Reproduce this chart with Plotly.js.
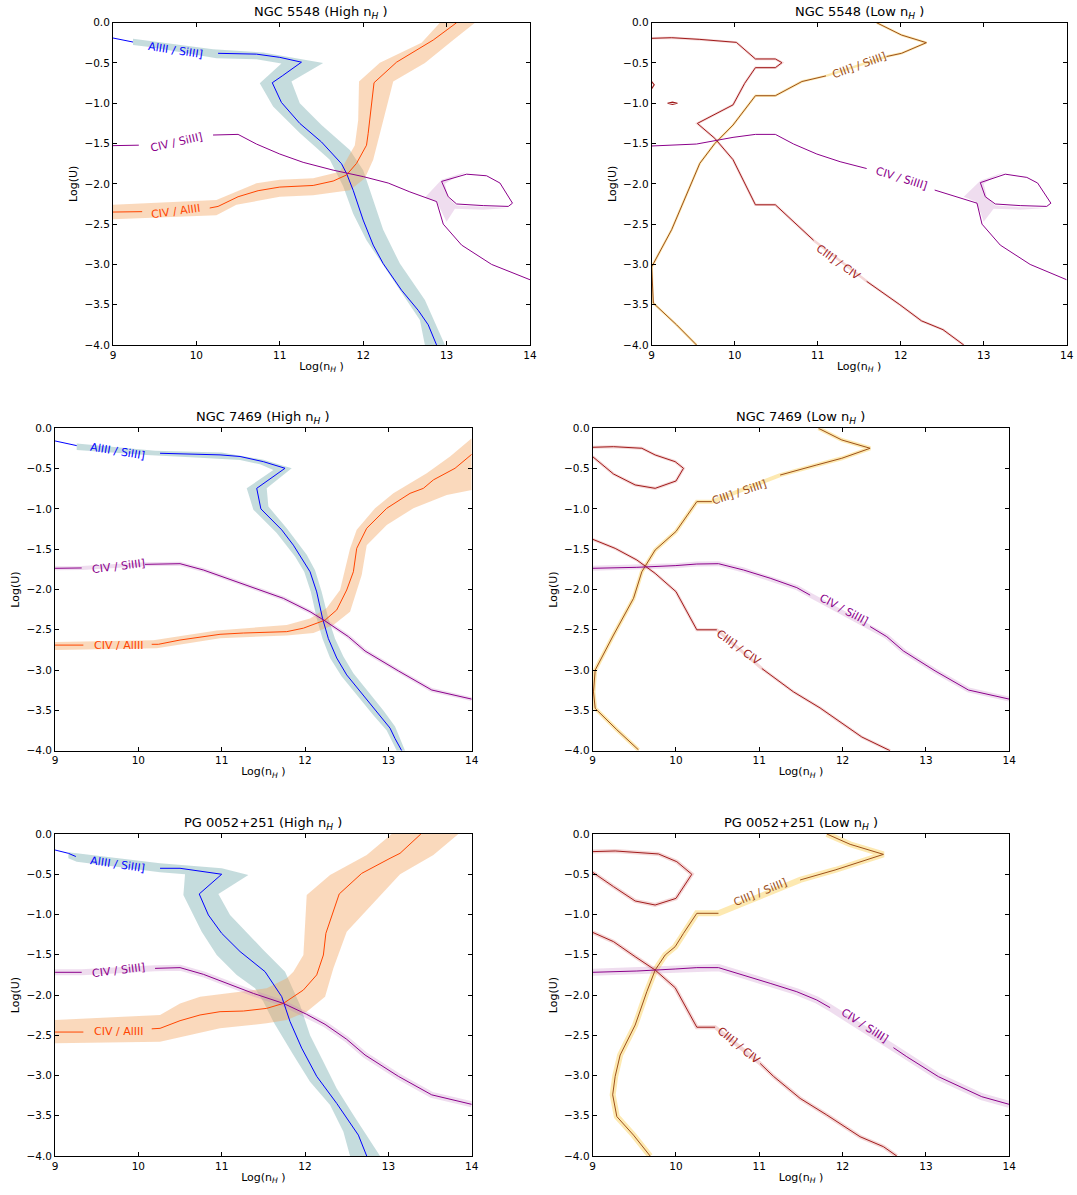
<!DOCTYPE html>
<html><head><meta charset="utf-8">
<script src="https://cdn.plot.ly/plotly-3.0.1.min.js"></script>
<style>body{margin:0;background:#fff}#chart{width:1077px;height:1195px}</style>
</head><body><div id="chart"></div>
<script>
// ---------- tick values ----------
const xTicks = [9, 10, 11, 12, 13, 14];
const yTicks = [-4, -3.5, -3, -2.5, -2, -1.5, -1, -0.5, 0];

const panelTitles = [
  "NGC 5548 (High n<sub><i>H</i></sub> )", "NGC 5548 (Low n<sub><i>H</i></sub> )",
  "NGC 7469 (High n<sub><i>H</i></sub> )", "NGC 7469 (Low n<sub><i>H</i></sub> )",
  "PG 0052+251 (High n<sub><i>H</i></sub> )", "PG 0052+251 (Low n<sub><i>H</i></sub> )"
];

// ---------- Panel 1: NGC 5548 High ----------
const p1_alsi_x = [9, 9.24, null, 10.26, 10.72, 11.0, 11.26, 11.03, 10.91, 11.02, 11.24, 11.5, 11.74, 11.8, 11.88, 12.0, 12.12, 12.24, 12.46, 12.66, 12.78, 12.88];
const p1_alsi_y = [-0.19, -0.24, null, -0.38, -0.39, -0.43, -0.49, -0.66, -0.745, -0.99, -1.25, -1.48, -1.75, -1.87, -2.08, -2.45, -2.76, -2.99, -3.32, -3.57, -3.75, -4.0];
const p1_alsiBand_x = [9.24, 10.2, 10.8, 11.2, 11.52, 11.14, 11.24, 11.5, 11.84, 12.0, 12.08, 12.24, 12.44, 12.74, 12.98, 12.74, 12.68, 12.44, 12.04, 11.88, 11.76, 11.6, 11.24, 10.92, 10.76, 11.02, 10.72, 10.24, 9.44, 9.24];
const p1_alsiBand_y = [-0.2, -0.33, -0.37, -0.44, -0.5, -0.73, -1.0, -1.27, -1.58, -1.83, -2.08, -2.57, -2.99, -3.44, -4.0, -4.0, -3.69, -3.32, -2.7, -2.37, -2.03, -1.7, -1.37, -1.04, -0.75, -0.505, -0.455, -0.44, -0.3, -0.277];
const p1_cal_x = [9, 9.35, null, 10.16, 10.26, 10.5, 10.74, 11.0, 11.4, 11.64, 11.8, 11.92, 12.04, 12.06, 12.1, 12.13, 12.4, 12.84, 13.12];
const p1_cal_y = [-2.35, -2.345, null, -2.3, -2.28, -2.16, -2.085, -2.04, -2.02, -1.965, -1.89, -1.746, -1.52, -1.373, -1.0, -0.745, -0.49, -0.215, 0];
const p1_calBand_x = [9, 10.24, 10.52, 10.72, 11.0, 11.4, 11.72, 11.9, 11.94, 11.95, 12.2, 12.7, 12.92, 13.34, 13.08, 12.74, 12.36, 12.24, 12.12, 12.02, 11.84, 11.4, 11.0, 10.48, 10.24, 9];
const p1_calBand_y = [-2.26, -2.2, -2.08, -1.994, -1.95, -1.93, -1.85, -1.52, -1.21, -0.73, -0.496, -0.248, 0, 0, -0.215, -0.5, -0.73, -1.21, -1.7, -1.93, -2.08, -2.14, -2.16, -2.26, -2.39, -2.44];
const p1_csi_x = [9, 9.31, null, 10.2, 10.5, 10.72, 11.0, 11.28, 11.64, 12.0, 12.3, 12.56, 12.88, 12.96, 13.18, 13.54, 14];
const p1_csi_y = [-1.526, -1.52, null, -1.394, -1.386, -1.506, -1.63, -1.733, -1.83, -1.91, -1.99, -2.1, -2.22, -2.5, -2.76, -3.0, -3.19];
const p1_csiLoop_x = [12.94, 13.24, 13.48, 13.64, 13.79, 13.74, 13.44, 13.12, 13.02, 12.94];
const p1_csiLoop_y = [-1.97, -1.88, -1.9, -1.99, -2.24, -2.28, -2.27, -2.25, -2.16, -1.97];
const p1_csiBand_x = [12.74, 12.94, 13.24, 13.1, 12.98, 13.02, 13.12, 13.44, 13.74, 13.44, 13.1, 13.0, 12.94, 12.88];
const p1_csiBand_y = [-2.17, -1.95, -1.85, -1.92, -2.0, -2.17, -2.27, -2.29, -2.3, -2.32, -2.31, -2.47, -2.35, -2.22];

// ---------- Panel 2: NGC 5548 Low ----------
const p2_cc_x = [9, 9.24, 9.58, 10.02, 10.25, 10.49, 10.57, 10.49, 10.25, 10.12, 9.98, 9.55, 9.76, 9.98, 10.25, 10.49, 10.95, null, 11.59, 11.99, 12.25, 12.51, 12.76];
const p2_cc_y = [-0.194, -0.186, -0.207, -0.244, -0.45, -0.45, -0.496, -0.558, -0.558, -0.753, -1.02, -1.25, -1.435, -1.7, -2.26, -2.26, -2.7, null, -3.21, -3.5, -3.7, -3.81, -4.0];
const p2_ccDot1_x = [9, 9.03, 9.0];
const p2_ccDot1_y = [-0.73, -0.77, -0.82];
const p2_ccDot2_x = [9.19, 9.25, 9.31, 9.25, 9.19];
const p2_ccDot2_y = [-1.0, -0.985, -1.0, -1.015, -1.0];
const p2_csi3_x = [11.71, 12.01, 12.31, 12.01, 11.83, null, 11.1, 10.81, 10.49, 10.25, 9.98, 9.76, 9.58, 9.24, 9.0, 9.01, 9.02, 9.3, 9.54];
const p2_csi3_y = [0, -0.153, -0.248, -0.38, -0.42, null, -0.66, -0.73, -0.906, -0.906, -1.27, -1.5, -1.745, -2.57, -3.03, -3.44, -3.48, -3.75, -4.0];
const p2_csi_x = [9, 9.54, 9.98, 10.25, 10.49, 10.71, 10.99, 11.27, 11.59, null, 12.41, 12.92, 12.98, 13.2, 13.56, 14];
const p2_csi_y = [-1.53, -1.506, -1.423, -1.386, -1.386, -1.506, -1.63, -1.725, -1.81, null, -2.077, -2.24, -2.5, -2.76, -3.0, -3.19];
const p2_csiLoop_x = [12.96, 13.26, 13.52, 13.65, 13.81, 13.76, 13.44, 13.14, 13.02, 12.96];
const p2_csiLoop_y = [-1.985, -1.88, -1.92, -1.99, -2.24, -2.28, -2.27, -2.25, -2.16, -1.985];
const p2_csiBand_x = [12.76, 12.96, 13.26, 13.12, 13.0, 13.04, 13.14, 13.44, 13.76, 13.44, 13.12, 13.0, 12.96, 12.9];
const p2_csiBand_y = [-2.16, -1.96, -1.85, -1.92, -2.0, -2.17, -2.27, -2.29, -2.3, -2.32, -2.31, -2.47, -2.35, -2.22];

// ---------- Panel 3: NGC 7469 High ----------
const p3_alsi_x = [9, 9.26, null, 10.26, 10.98, 11.22, 11.5, 11.76, 11.42, 11.47, 11.72, 11.86, 11.96, 12.06, 12.14, 12.21, 12.28, 12.38, 12.5, 12.7, 12.88, 13.02, 13.08, 13.16];
const p3_alsi_y = [-0.157, -0.215, null, -0.31, -0.33, -0.35, -0.414, -0.496, -0.745, -1.0, -1.26, -1.45, -1.61, -1.78, -2.03, -2.36, -2.61, -2.85, -3.06, -3.31, -3.54, -3.72, -3.85, -4.0];
const p3_alsiBand_x = [9.26, 10.2, 11.0, 11.5, 11.84, 11.54, 11.56, 11.78, 12.02, 12.12, 12.2, 12.28, 12.36, 12.46, 12.58, 12.76, 12.94, 13.08, 13.2, 13.1, 12.98, 12.82, 12.64, 12.44, 12.3, 12.21, 12.14, 12.07, 11.99, 11.88, 11.66, 11.38, 11.3, 11.62, 11.46, 11.22, 10.74, 10.1, 9.26];
const p3_alsiBand_y = [-0.19, -0.28, -0.3, -0.39, -0.496, -0.745, -0.97, -1.24, -1.57, -1.76, -2.03, -2.36, -2.61, -2.83, -3.04, -3.27, -3.5, -3.7, -4.0, -4.0, -3.75, -3.56, -3.33, -3.08, -2.85, -2.61, -2.36, -2.03, -1.78, -1.59, -1.3, -1.01, -0.745, -0.517, -0.447, -0.393, -0.364, -0.33, -0.27];
const p3_cal_x = [9, 9.34, null, 10.16, 10.24, 10.5, 10.98, 11.26, 11.78, 11.98, 12.24, 12.38, 12.5, 12.58, 12.62, 12.74, 12.98, 13.26, 13.42, 13.54, 13.8, 14];
const p3_cal_y = [-2.69, -2.69, null, -2.68, -2.68, -2.627, -2.556, -2.54, -2.523, -2.48, -2.38, -2.254, -2.006, -1.78, -1.49, -1.24, -0.993, -0.807, -0.745, -0.64, -0.496, -0.323];
const p3_calBand_x = [9, 10.18, 10.94, 11.78, 12.06, 12.26, 12.42, 12.54, 12.62, 12.84, 13.06, 13.46, 13.74, 14, 14, 13.7, 13.3, 12.98, 12.74, 12.68, 12.54, 12.34, 12.1, 11.78, 10.98, 10.22, 9];
const p3_calBand_y = [-2.65, -2.63, -2.51, -2.44, -2.36, -2.23, -2.006, -1.49, -1.26, -0.993, -0.807, -0.558, -0.35, -0.124, -0.765, -0.827, -0.993, -1.2, -1.45, -1.82, -2.275, -2.44, -2.54, -2.57, -2.606, -2.73, -2.75];
const p3_csi_x = [9, 9.32, null, 10.08, 10.5, 10.78, 11.06, 11.38, 11.74, 12.06, 12.24, 12.52, 12.72, 13.12, 13.52, 14];
const p3_csi_y = [-1.737, -1.733, null, -1.688, -1.68, -1.758, -1.86, -1.986, -2.11, -2.275, -2.39, -2.585, -2.763, -3.01, -3.247, -3.36];

// ---------- Panel 4: NGC 7469 Low ----------
const p4_ccLoop_x = [9, 9.25, 9.59, 9.75, 9.99, 10.09, 10.0, 9.75, 9.51, 9.25, 9];
const p4_ccLoop_y = [-0.236, -0.228, -0.248, -0.331, -0.414, -0.496, -0.654, -0.745, -0.703, -0.567, -0.352];
const p4_cc_x = [9, 9.27, 9.53, 9.75, 10.0, 10.25, 10.49, null, 11.03, 11.41, 11.73, 11.99, 12.23, 12.57];
const p4_cc_y = [-1.377, -1.49, -1.634, -1.8, -2.027, -2.5, -2.5, null, -2.98, -3.27, -3.47, -3.66, -3.83, -4.0];
const p4_csi3_x = [11.71, 11.99, 12.33, 11.99, 11.69, 11.25, null, 10.43, 10.25, 10.0, 9.75, 9.59, 9.49, 9.25, 9.03, 9.01, 9.03, 9.29, 9.55];
const p4_csi3_y = [0, -0.145, -0.248, -0.372, -0.455, -0.58, null, -0.91, -0.91, -1.28, -1.51, -1.78, -2.11, -2.565, -3.0, -3.27, -3.475, -3.74, -3.99];
const p4_csi_x = [9, 9.53, 9.99, 10.25, 10.51, 10.81, 11.13, 11.45, 11.61, null, 12.33, 12.53, 12.73, 13.11, 13.51, 14];
const p4_csi_y = [-1.737, -1.725, -1.704, -1.684, -1.68, -1.758, -1.86, -1.977, -2.07, null, -2.46, -2.585, -2.763, -3.01, -3.247, -3.36];

// ---------- Panel 5: PG 0052+251 High ----------
const p5_alsi_x = [9, 9.16, 9.25, null, 10.26, 10.5, 11.0, 10.73, 10.84, 11.0, 11.22, 11.52, 11.72, 11.82, 11.96, 12.14, 12.38, 12.64, 12.74];
const p5_alsi_y = [-0.199, -0.24, -0.28, null, -0.426, -0.426, -0.5, -0.745, -1.006, -1.234, -1.46, -1.71, -2.02, -2.33, -2.66, -3.01, -3.346, -3.74, -4.0];
const p5_alsiBand_x = [9.16, 9.26, 10.26, 11.0, 11.32, 10.96, 11.1, 11.5, 11.76, 11.94, 12.06, 12.22, 12.38, 12.58, 12.78, 12.9, 12.54, 12.46, 12.3, 12.06, 11.86, 11.62, 11.5, 11.4, 11.18, 10.94, 10.76, 10.62, 10.54, 10.56, 10.26, 9.26, 9.16];
const p5_alsiBand_y = [-0.228, -0.24, -0.364, -0.426, -0.509, -0.745, -1.006, -1.44, -1.71, -2.124, -2.5, -2.83, -3.16, -3.49, -3.8, -4.0, -4.0, -3.698, -3.366, -3.077, -2.745, -2.331, -2.083, -1.917, -1.75, -1.503, -1.213, -0.923, -0.758, -0.5, -0.476, -0.344, -0.3];
const p5_cal_x = [9, 9.34, null, 10.16, 10.26, 10.5, 10.74, 10.98, 11.26, 11.54, 11.74, 11.98, 12.14, 12.22, 12.25, 12.41, 12.68, 13.02, 13.14, 13.39];
const p5_cal_y = [-2.46, -2.46, null, -2.42, -2.414, -2.319, -2.248, -2.207, -2.199, -2.166, -2.104, -1.938, -1.75, -1.503, -1.234, -0.745, -0.489, -0.302, -0.24, 0];
const p5_calBand_x = [9, 10.26, 10.5, 10.74, 11.54, 11.78, 11.86, 11.98, 12.02, 12.3, 12.74, 13.04, 13.84, 13.54, 13.14, 12.5, 12.34, 12.24, 12.02, 11.78, 11.54, 10.98, 10.26, 9];
const p5_calBand_y = [-2.31, -2.248, -2.104, -2.02, -1.917, -1.793, -1.71, -1.503, -0.758, -0.509, -0.261, 0, 0, -0.261, -0.5, -1.213, -1.669, -2.02, -2.207, -2.31, -2.352, -2.414, -2.58, -2.6];
const p5_csi_x = [9, 9.32, null, 10.2, 10.5, 10.78, 11.06, 11.38, 11.74, 12.02, 12.24, 12.5, 12.72, 13.12, 13.52, 14];
const p5_csi_y = [-1.718, -1.718, null, -1.669, -1.66, -1.743, -1.855, -1.98, -2.104, -2.24, -2.364, -2.55, -2.745, -3.01, -3.24, -3.358];

// ---------- Panel 6: PG 0052+251 Low ----------
const p6_ccLoop_x = [9, 9.27, 9.79, 10.01, 10.19, 10.0, 9.75, 9.51, 9.25, 9];
const p6_ccLoop_y = [-0.219, -0.211, -0.248, -0.344, -0.5, -0.8, -0.882, -0.832, -0.654, -0.476];
const p6_cc_x = [9, 9.25, 9.51, 9.75, 9.99, 10.25, 10.47, null, 11.01, 11.17, 11.49, 11.81, 12.21, 12.49, 12.65];
const p6_cc_y = [-1.222, -1.337, -1.524, -1.69, -1.909, -2.4, -2.4, null, -2.85, -3.01, -3.284, -3.49, -3.76, -3.884, -4.0];
const p6_csi3_x = [11.81, 12.09, 12.49, 12.17, 11.91, 11.49, null, 10.51, 10.25, 10.09, 9.99, 9.87, 9.75, 9.65, 9.51, 9.33, 9.27, 9.24, 9.29, 9.49, 9.69];
const p6_csi3_y = [0, -0.128, -0.253, -0.364, -0.447, -0.571, null, -0.985, -0.985, -1.234, -1.4, -1.503, -1.69, -1.958, -2.373, -2.745, -3.01, -3.24, -3.51, -3.74, -4.0];
const p6_csi_x = [9, 9.53, 9.99, 10.25, 10.51, 10.81, 11.13, 11.45, 11.69, 11.85, null, 12.61, 12.77, 13.15, 13.67, 14];
const p6_csi_y = [-1.718, -1.702, -1.677, -1.66, -1.66, -1.752, -1.855, -1.959, -2.062, -2.157, null, -2.654, -2.766, -3.014, -3.263, -3.358];

// ---------- contour labels ----------
const labelPanel = [1, 1, 1, 2, 2, 2, 3, 3, 3, 4, 4, 4, 5, 5, 5, 6, 6, 6];
const labelText = ["AlIII / SiIII]", "CIV / SiIII]", "CIV / AlIII", "CIII] / CIV", "CIII] / SiIII]", "CIV / SiIII]",
  "AlIII / SiIII]", "CIV / SiIII]", "CIV / AlIII", "CIII] / CIV", "CIII] / SiIII]", "CIV / SiIII]",
  "AlIII / SiIII]", "CIV / SiIII]", "CIV / AlIII", "CIII] / CIV", "CIII] / SiIII]", "CIV / SiIII]"];
const labelX = [9.75, 9.76, 9.75, 11.25, 11.5, 12.01, 9.75, 9.76, 9.76, 10.75, 10.76, 12.01, 9.75, 9.76, 9.76, 10.75, 11.01, 12.26];
const labelY = [-0.34, -1.49, -2.34, -2.97, -0.525, -1.93, -0.29, -1.716, -2.69, -2.72, -0.794, -2.254, -0.377, -1.70, -2.447, -2.63, -0.725, -2.38];
const labelAngle = [8.6, -12.9, -7.7, 36.5, -20, 17.4, 9.2, -7, 0, 36, -18.4, 28, 8.5, -7, 0, 39, -22, 33];
const labelKind = ["alsi", "csi", "cal", "cc", "csi3", "csi", "alsi", "csi", "cal", "cc", "csi3", "csi", "alsi", "csi", "cal", "cc", "csi3", "csi"];

// ---------- styling ----------
const COL = {alsi: "#0000ff", cal: "#ff4500", csi: "#8b008b", cc: "#a01c1c", csi3: "#9c501a"};
const BAND = {alsi: "rgba(95,158,160,0.36)", cal: "rgba(244,164,96,0.42)", csi: "rgba(190,120,190,0.25)",
              cc: "rgba(210,90,90,0.25)", csi3: "rgba(250,200,60,0.4)"};
const xDom = [[0.1049, 0.4921], [0.6051, 0.9904], [0.0511, 0.4380], [0.5503, 0.9371], [0.0511, 0.4380], [0.5503, 0.9371]];
const yDom = [[0.7113, 0.9810], [0.7113, 0.9810], [0.3718, 0.6416], [0.3718, 0.6416], [0.0326, 0.3021], [0.0326, 0.3021]];

function ax(n) { return n === 1 ? ["x", "y"] : ["x" + n, "y" + n]; }
function compact(xs, ys) {
  const ox = [], oy = [];
  for (let i = 0; i < xs.length; i++) if (xs[i] !== null) { ox.push(xs[i]); oy.push(ys[i]); }
  return [ox, oy];
}
const traces = [];
function poly(n, xs, ys, color) {
  const a = ax(n);
  traces.push({type: "scatter", mode: "lines", x: xs, y: ys, fill: "toself", fillcolor: color,
    line: {width: 0, color: color}, hoverinfo: "skip", showlegend: false, xaxis: a[0], yaxis: a[1]});
}
function ln(n, xs, ys, color, w) {
  const a = ax(n);
  traces.push({type: "scatter", mode: "lines", x: xs, y: ys, connectgaps: false,
    line: {width: w, color: color}, hoverinfo: "skip", showlegend: false, xaxis: a[0], yaxis: a[1]});
}
function thinBand(n, xs, ys, kind, w) { const c = compact(xs, ys); ln(n, c[0], c[1], BAND[kind], w); }

// Panel 1
poly(1, p1_alsiBand_x, p1_alsiBand_y, BAND.alsi);
poly(1, p1_calBand_x, p1_calBand_y, BAND.cal);
poly(1, p1_csiBand_x, p1_csiBand_y, BAND.csi);
ln(1, p1_alsi_x, p1_alsi_y, COL.alsi, 1);
ln(1, p1_cal_x, p1_cal_y, COL.cal, 1);
ln(1, p1_csi_x, p1_csi_y, COL.csi, 1);
ln(1, p1_csiLoop_x, p1_csiLoop_y, COL.csi, 1);
// Panel 2
poly(2, p2_csiBand_x, p2_csiBand_y, BAND.csi);
thinBand(2, p2_cc_x, p2_cc_y, "cc", 2.5);
thinBand(2, p2_csi3_x, p2_csi3_y, "csi3", 2.5);
ln(2, p2_cc_x, p2_cc_y, COL.cc, 1);
ln(2, p2_ccDot1_x, p2_ccDot1_y, COL.cc, 1.2);
ln(2, p2_ccDot2_x, p2_ccDot2_y, COL.cc, 1.2);
ln(2, p2_csi3_x, p2_csi3_y, COL.csi3, 1);
ln(2, p2_csi_x, p2_csi_y, COL.csi, 1);
ln(2, p2_csiLoop_x, p2_csiLoop_y, COL.csi, 1);
// Panel 3
poly(3, p3_alsiBand_x, p3_alsiBand_y, BAND.alsi);
poly(3, p3_calBand_x, p3_calBand_y, BAND.cal);
thinBand(3, p3_csi_x, p3_csi_y, "csi", 4);
ln(3, p3_alsi_x, p3_alsi_y, COL.alsi, 1);
ln(3, p3_cal_x, p3_cal_y, COL.cal, 1);
ln(3, p3_csi_x, p3_csi_y, COL.csi, 1);
// Panel 4
thinBand(4, p4_ccLoop_x, p4_ccLoop_y, "cc", 3);
thinBand(4, p4_cc_x, p4_cc_y, "cc", 3);
thinBand(4, p4_csi3_x, p4_csi3_y, "csi3", 4);
thinBand(4, p4_csi_x, p4_csi_y, "csi", 5);
ln(4, p4_ccLoop_x, p4_ccLoop_y, COL.cc, 1);
ln(4, p4_cc_x, p4_cc_y, COL.cc, 1);
ln(4, p4_csi3_x, p4_csi3_y, COL.csi3, 1);
ln(4, p4_csi_x, p4_csi_y, COL.csi, 1);
// Panel 5
poly(5, p5_alsiBand_x, p5_alsiBand_y, BAND.alsi);
poly(5, p5_calBand_x, p5_calBand_y, BAND.cal);
thinBand(5, p5_csi_x, p5_csi_y, "csi", 6);
ln(5, p5_alsi_x, p5_alsi_y, COL.alsi, 1);
ln(5, p5_cal_x, p5_cal_y, COL.cal, 1);
ln(5, p5_csi_x, p5_csi_y, COL.csi, 1);
// Panel 6
thinBand(6, p6_ccLoop_x, p6_ccLoop_y, "cc", 4);
thinBand(6, p6_cc_x, p6_cc_y, "cc", 4);
thinBand(6, p6_csi3_x, p6_csi3_y, "csi3", 6);
thinBand(6, p6_csi_x, p6_csi_y, "csi", 7);
ln(6, p6_ccLoop_x, p6_ccLoop_y, COL.cc, 1);
ln(6, p6_cc_x, p6_cc_y, COL.cc, 1);
ln(6, p6_csi3_x, p6_csi3_y, COL.csi3, 1);
ln(6, p6_csi_x, p6_csi_y, COL.csi, 1);

const FONT = "DejaVu Sans, Liberation Sans, sans-serif";
const layout = {
  width: 1077, height: 1195, margin: {l: 0, r: 0, t: 0, b: 0},
  paper_bgcolor: "#ffffff", plot_bgcolor: "#ffffff", showlegend: false,
  font: {family: FONT, size: 10.5, color: "#000"},
  annotations: []
};
for (let n = 1; n <= 6; n++) {
  const xk = n === 1 ? "xaxis" : "xaxis" + n, yk = n === 1 ? "yaxis" : "yaxis" + n;
  const a = ax(n);
  layout[xk] = {domain: xDom[n - 1], anchor: a[1], range: [9, 14], tickvals: xTicks, ticktext: xTicks.map(String),
    ticks: "inside", ticklen: 4, tickwidth: 1, tickcolor: "#000", mirror: "allticks", showline: true,
    linecolor: "#000", linewidth: 1, showgrid: false, zeroline: false, fixedrange: true,
    tickfont: {size: 10.5, family: FONT}, title: {text: "Log(n<sub><i>H</i></sub> )", font: {size: 11, family: FONT}, standoff: 2}};
  layout[yk] = {domain: yDom[n - 1], anchor: a[0], range: [-4, 0], tickvals: yTicks, tickformat: ".1f",
    ticks: "inside", ticklen: 4, tickwidth: 1, tickcolor: "#000", mirror: "allticks", showline: true,
    linecolor: "#000", linewidth: 1, showgrid: false, zeroline: false, fixedrange: true,
    tickfont: {size: 10.5, family: FONT}, title: {text: "Log(U)", font: {size: 11, family: FONT}, standoff: 4}};
  layout.annotations.push({xref: "paper", yref: "paper", x: (xDom[n - 1][0] + xDom[n - 1][1]) / 2, y: yDom[n - 1][1],
    xanchor: "center", yanchor: "bottom", yshift: 0, showarrow: false, text: panelTitles[n - 1],
    font: {size: 13, family: FONT, color: "#000"}});
}
for (let i = 0; i < labelText.length; i++) {
  const a = ax(labelPanel[i]);
  layout.annotations.push({xref: a[0], yref: a[1], x: labelX[i], y: labelY[i], text: labelText[i],
    textangle: labelAngle[i], showarrow: false, xanchor: "center", yanchor: "middle",
    font: {size: 11, family: FONT, color: COL[labelKind[i]]}});
}
Plotly.newPlot("chart", traces, layout, {displayModeBar: false});
</script></body></html>
